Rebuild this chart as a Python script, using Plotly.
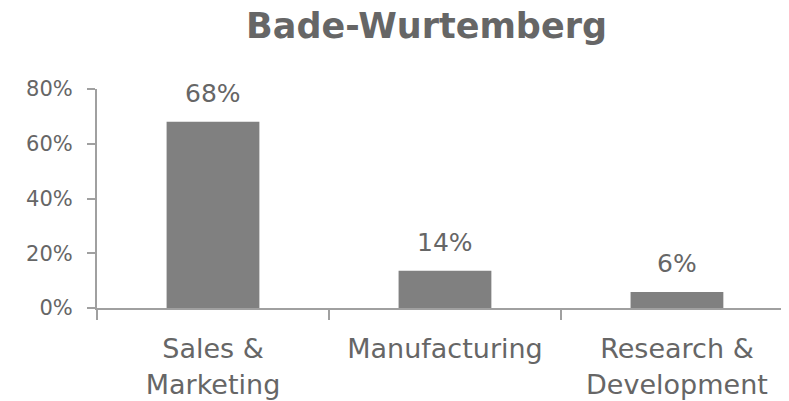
import plotly.graph_objects as go

categories = ["Sales &<br>Marketing", "Manufacturing", "Research &<br>Development"]
values = [0.68, 0.136, 0.058]
y_ticks = [0, 0.2, 0.4, 0.6, 0.8]
y_tick_labels = ["0%", "20%", "40%", "60%", "80%"]
title_text = "Bade-Wurtemberg"

FONT = "DejaVu Sans"
TEXT = "#666666"
AXIS = "#a0a0a0"
BAR = "#808080"

fig = go.Figure()
fig.add_trace(go.Bar(
    x=categories, y=values, marker=dict(color=BAR, line=dict(width=0)),
    width=0.4, hoverinfo="skip",
))

for c, v in zip(categories, values):
    fig.add_annotation(
        x=c, y=v, xref="x", yref="y", text=f"{v:.0%}", showarrow=False,
        yanchor="bottom", yshift=12,
        font=dict(family=FONT, size=25, color=TEXT),
    )

fig.update_layout(
    width=781, height=393,
    margin=dict(l=89, r=0, t=81, b=93),
    paper_bgcolor="white", plot_bgcolor="white",
    showlegend=False,
    title=dict(
        text=f"<b>{title_text}</b>", xref="container", x=0.5359, xanchor="center",
        yref="container", y=1 - 5 / 393, yanchor="top",
        font=dict(family=FONT, size=35, color=TEXT),
    ),
    xaxis=dict(
        type="category", range=[-0.5, 2.483],
        showline=True, linecolor=AXIS, linewidth=2,
        ticks="outside", tickson="boundaries", ticklen=10, tickcolor=AXIS, tickwidth=2,
        showgrid=False, zeroline=False,
        tickfont=dict(family=FONT, size=27, color=TEXT),
        ticklabelstandoff=16,
    ),
    yaxis=dict(
        range=[0, 0.8], tickvals=y_ticks, ticktext=y_tick_labels,
        showline=True, linecolor=AXIS, linewidth=2,
        ticks="outside", ticklen=8, tickcolor=AXIS, tickwidth=2,
        showgrid=False, zeroline=False,
        tickfont=dict(family=FONT, size=21, color=TEXT),
        ticklabelstandoff=10,
    ),
)

fig.write_html("out.html", config={"displayModeBar": False})
